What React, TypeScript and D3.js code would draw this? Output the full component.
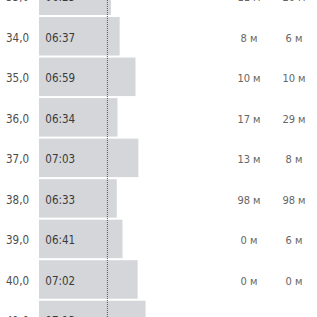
import React from "react";
import * as d3 from "d3";

const kmLabels = ["33,0", "34,0", "35,0", "36,0", "37,0", "38,0", "39,0", "40,0", "41,0"];
const paceLabels = ["06:25", "06:37", "06:59", "06:34", "07:03", "06:33", "06:41", "07:02", "07:13"];
const paceSeconds = [385, 397, 419, 394, 423, 393, 401, 422, 433];
const elevUp = ["11 м", "8 м", "10 м", "17 м", "13 м", "98 м", "0 м", "0 м", ""];
const elevDown = ["20 м", "6 м", "10 м", "29 м", "8 м", "98 м", "6 м", "0 м", ""];
const avgPaceSeconds = 380;

const W = 317;
const H = 317;

export default function App() {
  const x = d3.scaleLinear().domain([285, 435]).range([39, 147]);
  const y = d3
    .scaleBand<string>()
    .domain(kmLabels)
    .range([-23.5, -23.5 + 8.95 * 40.53])
    .paddingInner(0.05)
    .paddingOuter(0)
    .align(0);
  const bw = y.bandwidth();
  const font = "'Liberation Sans Narrow', 'DejaVu Sans Condensed', Roboto, sans-serif";

  return (
    <svg
      width={W}
      height={H}
      style={{ position: "absolute", left: 0, top: 0, background: "#fff" }}
      fontFamily={font}
    >
      {kmLabels.map((k, i) => {
        const y0 = y(k)!;
        return (
          <g key={k}>
            <rect x={x(285)} y={y0} width={x(paceSeconds[i]) - x(285)} height={bw} fill="#d4d6d9" />
            <text x={29} y={y0 + 24.7} textAnchor="end" fontSize={11.5} fill="#4d4d4d">
              {k}
            </text>
            <text x={45.3} y={y0 + 24.7} fontSize={11.5} fill="#3a3a3a">
              {paceLabels[i]}
            </text>
            <text x={249} y={y0 + 24.7} textAnchor="middle" fontSize={11} fill="#666">
              {elevUp[i]}
            </text>
            <text x={294} y={y0 + 24.7} textAnchor="middle" fontSize={11} fill="#666">
              {elevDown[i]}
            </text>
          </g>
        );
      })}
      <line
        x1={x(avgPaceSeconds)}
        x2={x(avgPaceSeconds)}
        y1={0}
        y2={H}
        stroke="#555"
        strokeWidth={1}
        strokeDasharray="1 1"
      />
    </svg>
  );
}
